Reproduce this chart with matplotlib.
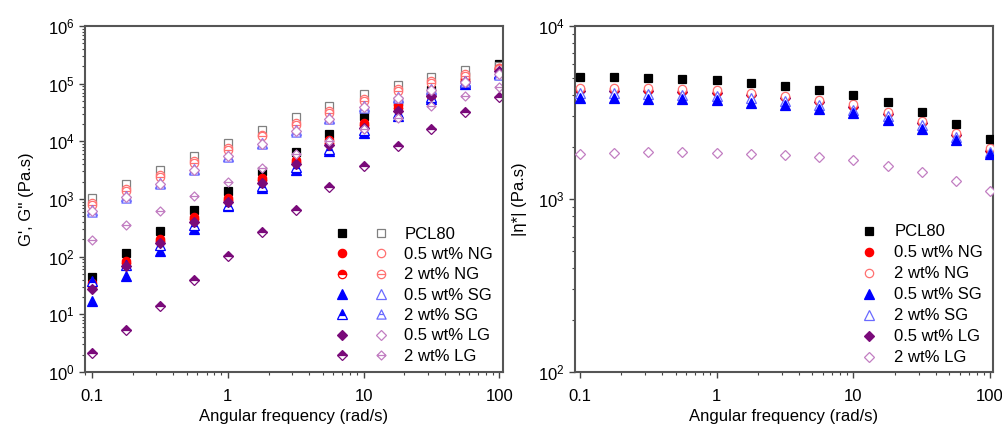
import matplotlib
matplotlib.use("Agg")
import matplotlib.pyplot as plt
from matplotlib.path import Path
from matplotlib.ticker import NullFormatter
from matplotlib.legend_handler import HandlerTuple

plt.rcParams['font.family'] = ['Liberation Sans', 'DejaVu Sans']
plt.rcParams['font.size'] = 12

# angular frequency (rad/s)
freq = [0.1, 0.178, 0.316, 0.562, 1, 1.78, 3.16, 5.62, 10, 17.8, 31.6, 56.2, 100]
xticks = [0.1, 1, 10, 100]
xtick_labels = ["0.1", "1", "10", "100"]

labels = ["PCL80", "0.5 wt% NG", "2 wt% NG", "0.5 wt% SG", "2 wt% SG",
          "0.5 wt% LG", "2 wt% LG"]

# storage modulus G' (filled symbols)
g1_pcl = [45, 118, 282, 635, 1380, 3000, 6400, 13500, 27000, 51000, 78000, 135000, 221000]
g1_ng05 = [35, 85, 205, 490, 1040, 2300, 4800, 10400, 20700, 42000, 66000, 120000, 190000]
g1_ng2 = [31, 78, 190, 450, 960, 2100, 4400, 9500, 19000, 38000, 61000, 112000, 180000]
g1_sg05 = [16.8, 47, 123, 300, 745, 1550, 3200, 6700, 13900, 27800, 54000, 100000, 148000]
g1_sg2 = [38, 72, 160, 350, 800, 1700, 3600, 7500, 15500, 30500, 58000, 105000, 155000]
g1_lg05 = [27, 70, 173, 393, 870, 1900, 4100, 8700, 17000, 33000, 60000, 108000, 165000]
g1_lg2 = [2.1, 5.4, 14.2, 39, 101, 264, 650, 1620, 3670, 8130, 16600, 32000, 58600]

# loss modulus G'' (open symbols)
g2_pcl = [1050, 1840, 3220, 5470, 9340, 15900, 26300, 41400, 65000, 96000, 130000, 170000, 200000]
g2_ng05 = [850, 1490, 2640, 4470, 7630, 13000, 20700, 33000, 54000, 80000, 110000, 145000, 190000]
g2_ng2 = [790, 1400, 2450, 4200, 7200, 12200, 19500, 31000, 50000, 75000, 103000, 138000, 180000]
g2_sg05 = [650, 1110, 1900, 3310, 5630, 9350, 15400, 25400, 40300, 59000, 81000, 110000, 148000]
g2_sg2 = [600, 1060, 1820, 3150, 5400, 8900, 14700, 24200, 38500, 56000, 78000, 105000, 142000]
g2_lg05 = [620, 1080, 1850, 3200, 5500, 9100, 15000, 24800, 39000, 57000, 79000, 107000, 145000]
g2_lg2 = [197, 350, 625, 1110, 1940, 3450, 6000, 10000, 16500, 25500, 41000, 62000, 87000]

# complex viscosity |eta*|
eta_pcl = [5090, 5090, 5020, 4950, 4860, 4700, 4500, 4270, 3990, 3620, 3190, 2710, 2220]
eta_ng05 = [4300, 4300, 4270, 4230, 4150, 4030, 3860, 3670, 3440, 3130, 2770, 2370, 1930]
eta_ng2 = [4400, 4400, 4370, 4330, 4250, 4120, 3950, 3750, 3520, 3200, 2830, 2420, 1960]
eta_sg05 = [3820, 3820, 3800, 3770, 3710, 3610, 3480, 3320, 3130, 2870, 2550, 2200, 1810]
eta_sg2 = [4080, 4080, 4050, 4010, 3940, 3830, 3680, 3500, 3290, 3000, 2660, 2280, 1870]
eta_lg05 = [4230, 4230, 4200, 4160, 4090, 3970, 3810, 3620, 3400, 3100, 2740, 2340, 1900]
eta_lg2 = [1810, 1850, 1860, 1870, 1850, 1830, 1800, 1750, 1670, 1560, 1440, 1270, 1110]

g1_all = [g1_pcl, g1_ng05, g1_ng2, g1_sg05, g1_sg2, g1_lg05, g1_lg2]
g2_all = [g2_pcl, g2_ng05, g2_ng2, g2_sg05, g2_sg2, g2_lg05, g2_lg2]
eta_all = [eta_pcl, eta_ng05, eta_ng2, eta_sg05, eta_sg2, eta_lg05, eta_lg2]


def with_bar(base, half):
    bar = Path([[-half, 0], [half, 0]], [Path.MOVETO, Path.LINETO])
    return Path.make_compound_path(base, bar)


tri = Path([[0, 1], [-1, -1], [1, -1], [0, 1]],
           [Path.MOVETO, Path.LINETO, Path.LINETO, Path.CLOSEPOLY])
dia = Path([[0, 1], [-1, 0], [0, -1], [1, 0], [0, 1]],
           [Path.MOVETO, Path.LINETO, Path.LINETO, Path.LINETO, Path.CLOSEPOLY])
circ_bar = with_bar(Path.unit_circle(), 1)
tri_bar = with_bar(tri, 0.5)
dia_bar = with_bar(dia, 1)

BLACK, RED, BLUE, PURPLE = "#000000", "#ff0000", "#0000ff", "#7a0a7a"
GRAY, LRED, LBLUE, LPURPLE = "#808080", "#ff7070", "#6a6aff", "#c27ec2"

MS = {"s": 5.2, "o": 6.0, "^": 6.6, "D": 4.6}

filled_style = [
    dict(marker="s", color=BLACK, ms=MS["s"]),
    dict(marker="o", color=RED, ms=MS["o"]),
    dict(marker="o", color=RED, ms=MS["o"], fillstyle="top", markerfacecoloralt="white"),
    dict(marker="^", color=BLUE, ms=MS["^"]),
    dict(marker="^", color=BLUE, ms=MS["^"], fillstyle="top", markerfacecoloralt="white"),
    dict(marker="D", color=PURPLE, ms=MS["D"]),
    dict(marker="D", color=PURPLE, ms=MS["D"], fillstyle="top", markerfacecoloralt="white"),
]
open_style = [
    dict(marker="s", color=GRAY, ms=MS["s"]),
    dict(marker="o", color=LRED, ms=MS["o"]),
    dict(marker=circ_bar, color=LRED, ms=MS["o"]),
    dict(marker="^", color=LBLUE, ms=MS["^"]),
    dict(marker=tri_bar, color=LBLUE, ms=MS["^"]),
    dict(marker="D", color=LPURPLE, ms=MS["D"]),
    dict(marker=dia_bar, color=LPURPLE, ms=MS["D"] * 1.414),
]

fig = plt.figure(figsize=(10.03, 4.3), dpi=100)
ax1 = fig.add_axes([0.0847, 0.1349, 0.4167, 0.8047])
ax2 = fig.add_axes([0.5733, 0.1349, 0.4167, 0.8047])

handles1 = []
for i in range(7):
    f = filled_style[i]
    o = open_style[i]
    hf, = ax1.plot(freq, g1_all[i], ls="none", marker=f["marker"], ms=f["ms"],
                   color=f["color"], mec=f["color"], mew=0.9,
                   fillstyle=f.get("fillstyle", "full"),
                   markerfacecoloralt=f.get("markerfacecoloralt", "none"))
    ho, = ax1.plot(freq, g2_all[i], ls="none", marker=o["marker"], ms=o["ms"],
                   mec=o["color"], mfc="white", mew=0.9)
    handles1.append((hf, ho))

# right panel: 2 wt% samples drawn as open symbols
eta_style = [filled_style[0], filled_style[1], open_style[1], filled_style[3],
             open_style[3], filled_style[5], open_style[5]]
eta_z = [5, 2.2, 2.6, 2.8, 2.7, 2.1, 3]
handles2 = []
for i in range(7):
    s = eta_style[i]
    is_open = i in (2, 4, 6)
    h, = ax2.plot(freq, eta_all[i], ls="none", marker=s["marker"], ms=s["ms"],
                  color=s["color"], mec=s["color"], mew=0.9,
                  mfc="white" if is_open else s["color"], zorder=eta_z[i])
    handles2.append(h)

for ax in (ax1, ax2):
    ax.set_xscale("log")
    ax.set_yscale("log")
    ax.set_xticks(xticks)
    ax.set_xticklabels(xtick_labels)
    ax.xaxis.set_minor_formatter(NullFormatter())
    ax.yaxis.set_minor_formatter(NullFormatter())
    ax.set_xlabel("Angular frequency (rad/s)", labelpad=4)
    ax.tick_params(which="both", direction="out", top=False, right=False,
                   color="#444444", labelsize=12)
    ax.tick_params(axis="x", which="major", pad=8)
    ax.tick_params(which="major", length=4, width=1.0)
    ax.tick_params(which="minor", length=2.2, width=0.8)
    for s in ax.spines.values():
        s.set_color("#555555")
        s.set_linewidth(1.5)

ax1.set_xlim(0.0893, 106)
ax2.set_xlim(0.092, 105)
ax1.set_ylim(1, 1e6)
ax2.set_ylim(100, 1e4)
ax1.set_ylabel("G', G'' (Pa.s)", labelpad=10)
ax2.set_ylabel("|\u03b7*| (Pa.s)", labelpad=8)

ax1.legend(handles1, labels, handler_map={tuple: HandlerTuple(ndivide=None, pad=0)},
           loc="lower right", bbox_to_anchor=(1.0, -0.005), frameon=False,
           handlelength=4.7, handletextpad=0.2, labelspacing=0.32,
           borderaxespad=0.2, fontsize=12)
ax2.legend(handles2, labels, loc="lower right", bbox_to_anchor=(1.0, -0.01),
           frameon=False, handlelength=1.0, handletextpad=1.0, labelspacing=0.36,
           borderaxespad=0.2, fontsize=12)

fig.savefig("out.png", dpi=100)
